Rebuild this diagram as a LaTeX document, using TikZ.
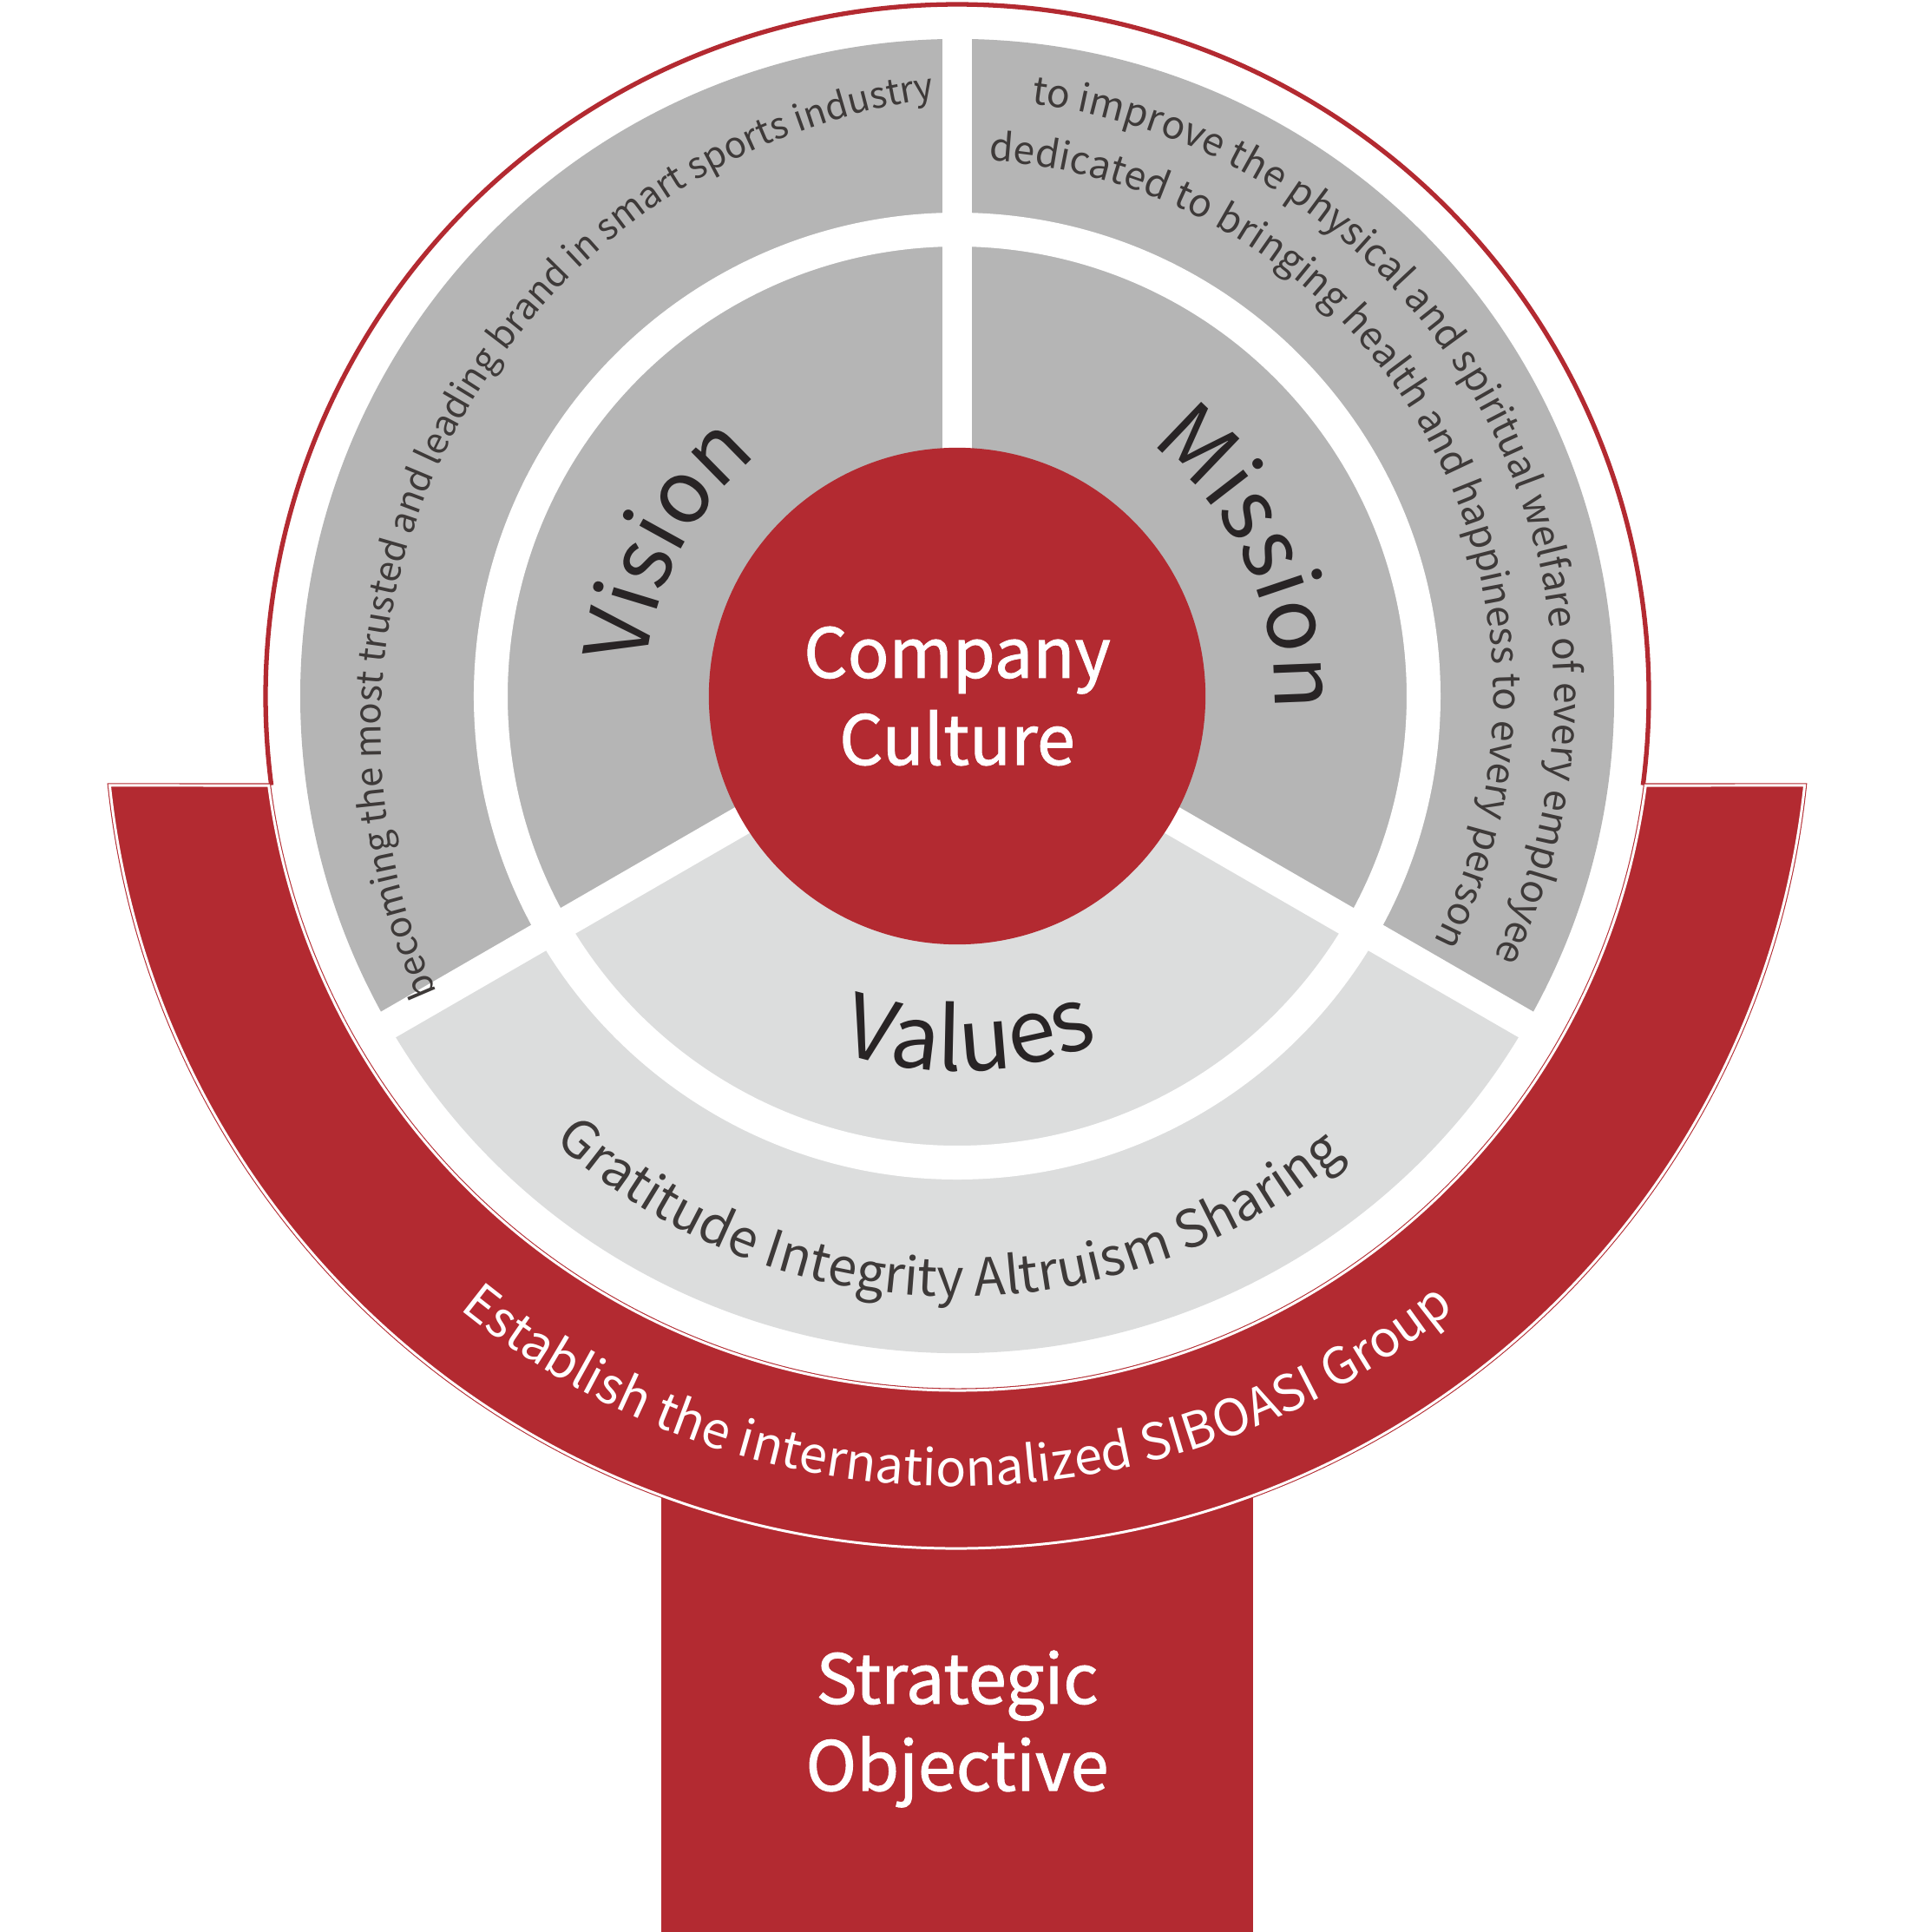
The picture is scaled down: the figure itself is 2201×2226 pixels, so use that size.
\documentclass[tikz,border=0pt]{standalone}
\usepackage{fontspec}
\newfontfamily\hanfont{Noto Sans CJK SC}
\newfontfamily\hanmid{Noto Sans CJK SC}[FakeBold=1.2]
\usetikzlibrary{decorations.text}
\definecolor{siboRed}{RGB}{179,42,49}
\definecolor{siboGray}{RGB}{181,181,181}
\definecolor{siboLight}{RGB}{220,221,221}
\definecolor{siboInk}{RGB}{40,36,37}
\definecolor{siboText}{RGB}{62,58,57}
\newcommand\siboLabel{\hanfont\fontsize{28.5}{34}\selectfont\color{siboInk}}
\newcommand\siboSmall{\hanfont\fontsize{12.6}{15}\selectfont\color{siboText}}
\newcommand\siboVision{\hanfont\fontsize{11.9}{15}\selectfont\color{siboText}}
\newcommand\siboWords{\hanfont\fontsize{17}{20}\selectfont\color{siboText}}
\newcommand\siboBand{\hanfont\fontsize{16.5}{20}\selectfont\color{white}}
\begin{document}
\begin{tikzpicture}[x=0.01cm,y=0.01cm,
  arctext/.style={decorate,decoration={text along path,text align=center,text={#1}}},
  title/.style={text=white,align=center,font=\hanmid\fontsize{22.5}{28.5}\selectfont}]
\useasboundingbox (-1103,-1424) rectangle (1098,802);
\fill[white] (-1103,-1424) rectangle (1098,802);
\fill[siboRed] (-341,-1424) rectangle (341,-850);
\draw[siboRed,line width=1.5pt] (-7.4:797) arc[start angle=-7.4,end angle=187.4,radius=797];
\draw[fill=siboRed,draw=siboRed,double=white,double distance=0.85pt,line width=0.3pt]
  (186.02:982) arc[start angle=186.02,end angle=353.98,radius=982] -- (-7.40:800)
  arc[start angle=-7.40,end angle=-172.60,radius=800] -- cycle;
\fill[siboGray] (0,0) -- (-30:757) arc[start angle=-30,end angle=210,radius=757] -- cycle;
\fill[siboLight] (0,0) -- (210:757) arc[start angle=210,end angle=330,radius=757] -- cycle;
\draw[white,line width=11.1pt] (0,0) circle[radius=537.5];
\foreach \a in {90,210,330}
  \draw[white,line width=9.7pt] (0,0) -- (\a:765);
\node[circle,fill=siboRed,minimum size=5.72cm,title] (culture) at (0,0) {Company\\Culture};
\node[title] (goal) at (0,-1190) {Strategic\\Objective};
\path[arctext={|\siboLabel|Vision}] (232:360) arc[start angle=232,end angle=72,radius=360];
\path[arctext={|\siboLabel|Mission}] (105:366) arc[start angle=105,end angle=-55,radius=366];
\path[arctext={|\siboLabel|Values}] (-168:432) arc[start angle=-168,end angle=-8,radius=432];
\path[arctext={|\siboVision|becoming the most trusted and leading brand in smart sports industry}]
  (71,-40) ++(240.9:735) arc[start angle=240.9,end angle=60.9,radius=735];
\path[arctext={|\siboSmall|to improve the physical and spiritual welfare of every employee}]
  (118.5:688) arc[start angle=118.5,end angle=-61.5,radius=688];
\path[arctext={|\siboSmall|dedicated to bringing health and happiness to every person}]
  (119.7:618) arc[start angle=119.7,end angle=-60.3,radius=618];
\path[arctext={|\siboWords|Gratitude Integrity Altruism Sharing}]
  (-181:692) arc[start angle=-181,end angle=-1,radius=692];
\path[arctext={|\siboBand|Establish the internationalized SIBOASI Group}]
  (-170:910) arc[start angle=-170,end angle=-10,radius=910];
\end{tikzpicture}
\end{document}
